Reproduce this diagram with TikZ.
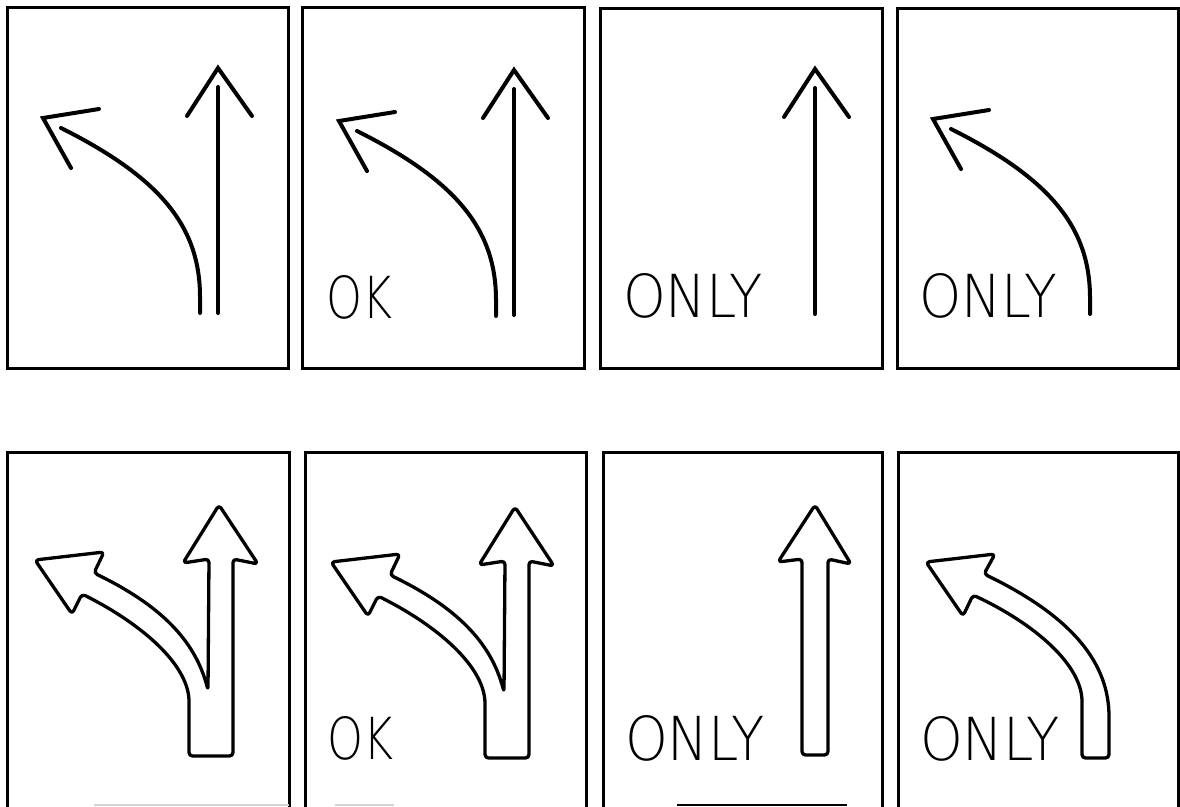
\documentclass[tikz,border=0pt]{standalone}
\usepackage{fontspec}
\usepackage{graphicx}
\IfFontExistsTF{DejaVu Sans ExtraLight}%
  {\newfontfamily\signfont{DejaVu Sans ExtraLight}}%
  {\newfontfamily\signfont{DejaVu Sans}}
\tikzset{
  frame/.style={line width=3pt, line join=miter},
  linearrow/.style={line width=4pt, line cap=round, line join=miter},
  outlinearrow/.style={line width=3.3pt, line join=round, rounded corners=3.5pt},
  signtext/.style={inner sep=0pt, outer sep=0pt, anchor=base west},
  % top row: plain line arrows
  tstraight/.pic={
    \draw[linearrow] (0,80) -- (0,306);
    \draw[linearrow] (-31,109) -- (0,61) -- (34,109);
  },
  tcurve/.pic={
    \draw[linearrow] (193,306) -- (193,290) .. controls (193,220) and (154,171) .. (54,121);
    \draw[linearrow] (92,102) -- (36,111) -- (64,161);
  },
  % bottom row: outlined arrows
  bboth/.pic={
    \draw[outlinearrow] (182,304) -- (182,253)
      .. controls (182,213) and (135,172) .. (75,142)
      -- (65,162) -- (28,108) -- (97,100) -- (87,121)
      .. controls (153,153) and (188,188) .. (201,238)
      -- (202,107) -- (176,111) -- (212,53) -- (251,112) -- (226,107)
      -- (226,304) -- cycle;
  },
  bstraight/.pic={
    \draw[outlinearrow] (199,303) -- (199,107) -- (175,110) -- (212,53)
      -- (248,112) -- (225,107) -- (225,303) -- cycle;
  },
  bcurve/.pic={
    \draw[outlinearrow] (184,306) -- (184,253)
      .. controls (184,213) and (137,172) .. (75,143)
      -- (65,164) -- (28,110) -- (97,102) -- (86,122)
      .. controls (177,166) and (211,213) .. (211,268)
      -- (211,306) -- cycle;
  },
}
\begin{document}
\begin{tikzpicture}[x=1pt,y=-1pt]
\useasboundingbox (0,0) rectangle (1180,806);
\clip (0,0) rectangle (1180,806);
\fill[white] (0,0) rectangle (1180,806);

% ---------- top row frames ----------
\draw[frame] (7,7) rectangle (288,368);
\draw[frame] (302,7) rectangle (584,368);
\draw[frame] (600,8) rectangle (882,368);
\draw[frame] (897,8) rectangle (1178,368);

% top row arrows
\pic at (218,7) {tstraight};
\pic at (7,7) {tcurve};
\pic at (514,9) {tstraight};
\pic at (303,10) {tcurve};
\pic at (815,8) {tstraight};
\pic at (897,8) {tcurve};

% top row texts
\node[signtext] (tok) at (326,318) {\resizebox{66pt}{43pt}{\signfont OK}};
\node[signtext] (tonly1) at (623,317) {\resizebox{140pt}{44pt}{\signfont ONLY}};
\node[signtext] (tonly2) at (919,317) {\resizebox{138pt}{44pt}{\signfont ONLY}};

% ---------- bottom row frames (cut off at the lower edge) ----------
\draw[frame] (7,810) -- (7,452) -- (289,452) -- (289,810);
\draw[frame] (305,810) -- (305,452) -- (586,452) -- (586,810);
\draw[frame] (603,810) -- (603,452) -- (882,452) -- (882,810);
\draw[frame] (898,810) -- (898,452) -- (1178,452) -- (1178,810);

% partial lower edges
\draw[gray!35, line width=1.5pt] (94,805) -- (289,805);
\draw[gray!35, line width=1.5pt] (335,805) -- (394,805);
\draw[line width=2pt] (677,805) -- (847,805);

% bottom row arrows
\pic at (7,452) {bboth};
\pic at (303,454) {bboth};
\pic at (603,452) {bstraight};
\pic at (898,452) {bcurve};

% bottom row texts
\node[signtext] (bok) at (327,759) {\resizebox{66pt}{43pt}{\signfont OK}};
\node[signtext] (bonly1) at (625,760) {\resizebox{140pt}{45pt}{\signfont ONLY}};
\node[signtext] (bonly2) at (920,760) {\resizebox{140pt}{44pt}{\signfont ONLY}};
\end{tikzpicture}
\end{document}
